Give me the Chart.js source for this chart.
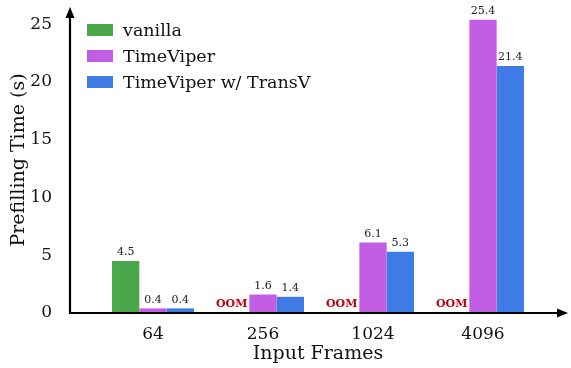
<!DOCTYPE html>
<html>
<head>
<meta charset="utf-8">
<script src="https://cdn.jsdelivr.net/npm/chart.js@4.4.1/dist/chart.umd.min.js"></script>
<style>
  html, body { margin: 0; padding: 0; background: #fff; }
  #wrap { width: 571px; height: 368px; }
</style>
</head>
<body>
<div id="wrap"><canvas id="myChart"></canvas></div>
<script>
const frames = ['64', '256', '1024', '4096']
const vanilla = [4.5, null, null, null]
const timeViper = [0.4, 1.6, 6.1, 25.4]
const timeViperTransV = [0.4, 1.4, 5.3, 21.4]
const yTicks = [0, 5, 10, 15, 20, 25]

const FONT = "'DejaVu Serif', serif"

// axes with arrow heads, legend, value labels and OOM markers
const decorations = {
    id: 'decorations',
    afterDraw(chart) {
        const ctx = chart.ctx
        const area = chart.chartArea
        const y0 = chart.scales.y.getPixelForValue(0)
        const axisX = area.left - 28

        ctx.save()
        ctx.strokeStyle = '#000'
        ctx.fillStyle = '#000'
        ctx.lineWidth = 2.2

        ctx.beginPath()
        ctx.moveTo(axisX, y0)
        ctx.lineTo(axisX, area.top + 8)
        ctx.moveTo(axisX - 1, y0)
        ctx.lineTo(area.right + 20, y0)
        ctx.stroke()

        ctx.beginPath()
        ctx.moveTo(axisX, area.top)
        ctx.lineTo(axisX - 4.5, area.top + 11)
        ctx.lineTo(axisX + 4.5, area.top + 11)
        ctx.closePath()
        ctx.fill()

        ctx.beginPath()
        ctx.moveTo(area.right + 30, y0)
        ctx.lineTo(area.right + 19, y0 - 4.5)
        ctx.lineTo(area.right + 19, y0 + 4.5)
        ctx.closePath()
        ctx.fill()

        // legend
        ctx.font = '17.5px ' + FONT
        ctx.textBaseline = 'middle'
        ctx.textAlign = 'left'
        chart.data.datasets.forEach((ds, i) => {
            const cy = 30 + i * 26
            ctx.fillStyle = ds.backgroundColor
            ctx.fillRect(87, cy - 6, 26, 12)
            ctx.fillStyle = '#111'
            ctx.fillText(ds.label, 123, cy + 1)
        })

        // value labels
        ctx.textAlign = 'center'
        chart.data.datasets.forEach((ds, i) => {
            const meta = chart.getDatasetMeta(i)
            meta.data.forEach((bar, j) => {
                const v = ds.data[j]
                if (v === null) {
                    ctx.font = 'bold 11px ' + FONT
                    ctx.fillStyle = '#c00010'
                    ctx.textBaseline = 'middle'
                    ctx.fillText('OOM', bar.x - 4, y0 - 9)
                } else {
                    ctx.font = '11px ' + FONT
                    ctx.fillStyle = '#222'
                    ctx.textBaseline = 'bottom'
                    ctx.fillText(v.toFixed(1), bar.x, bar.y - 3)
                }
            })
        })
        ctx.restore()
    }
}

const chart = new Chart(document.querySelector('#myChart'), {
    type: 'bar',
    data: {
        labels: frames,
        datasets: [
            { label: 'vanilla', data: vanilla, backgroundColor: '#4aa84a' },
            { label: 'TimeViper', data: timeViper, backgroundColor: '#c25ee3' },
            { label: 'TimeViper w/ TransV', data: timeViperTransV, backgroundColor: '#3f7be5' }
        ]
    },
    options: {
        responsive: true,
        maintainAspectRatio: false,
        animation: false,
        layout: { padding: { top: 7, right: 33, left: 0, bottom: 0 } },
        datasets: {
            bar: { categoryPercentage: 0.745, barPercentage: 1, borderWidth: 0 }
        },
        plugins: {
            legend: { display: false },
            tooltip: { enabled: false }
        },
        scales: {
            x: {
                offset: true,
                grid: { display: false },
                border: { display: false },
                ticks: { color: '#111', font: { family: FONT, size: 17 }, padding: 3 },
                title: {
                    display: true,
                    text: 'Input Frames',
                    color: '#111',
                    font: { family: FONT, size: 19 },
                    padding: { top: 0, bottom: 3 }
                },
                afterFit: scale => {
                    scale.height = 55
                    scale.paddingLeft = 0
                    scale.paddingRight = 0
                }
            },
            y: {
                min: 0,
                max: 26.5,
                grid: { display: false },
                border: { display: false },
                afterBuildTicks: scale => { scale.ticks = yTicks.map(v => ({ value: v })) },
                ticks: { color: '#111', font: { family: FONT, size: 17 }, padding: 38 },
                title: {
                    display: true,
                    text: 'Prefilling Time (s)',
                    color: '#111',
                    font: { family: FONT, size: 19 },
                    padding: { top: 8, bottom: 0 }
                },
                afterFit: scale => {
                    scale.width = 98
                    scale.paddingTop = 0
                    scale.paddingBottom = 0
                }
            }
        }
    },
    plugins: [decorations]
})
</script>
</body>
</html>
